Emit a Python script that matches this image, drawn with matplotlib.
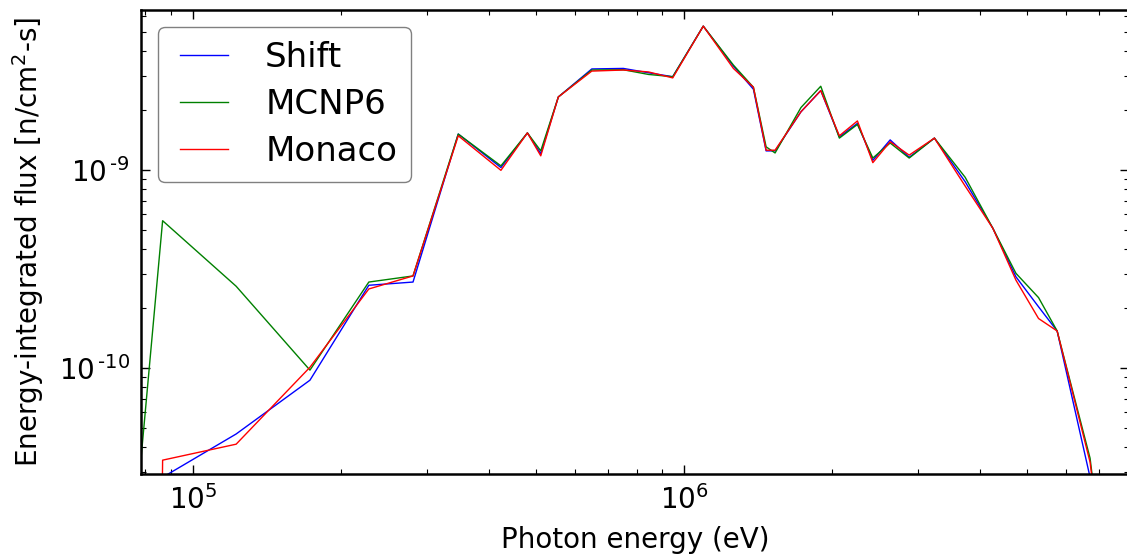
import numpy as np
import matplotlib
matplotlib.use("Agg")
import matplotlib.pyplot as plt
from matplotlib.legend_handler import HandlerLine2D
from matplotlib.ticker import FuncFormatter

# Photon energy grid (eV) and energy-integrated flux for each code
energy = [7.83e4, 8.67e4, 1.224e5, 1.73e5, 2.28e5, 2.805e5, 3.468e5, 4.236e5,
          4.796e5, 5.106e5, 5.545e5, 6.486e5, 7.52e5, 8.46e5, 9.48e5, 1.094e6,
          1.26e6, 1.384e6, 1.469e6, 1.532e6, 1.73e6, 1.898e6, 2.071e6, 2.254e6,
          2.423e6, 2.628e6, 2.873e6, 3.234e6, 3.736e6, 4.254e6, 4.74e6, 5.27e6,
          5.75e6, 6.71e6, 8.0e6]

shift = [1.0e-11, 2.81e-11, 4.65e-11, 8.69e-11, 2.62e-10, 2.72e-10, 1.52e-9, 1.03e-9,
         1.54e-9, 1.21e-9, 2.34e-9, 3.24e-9, 3.26e-9, 3.10e-9, 2.96e-9, 5.33e-9,
         3.35e-9, 2.56e-9, 1.25e-9, 1.25e-9, 1.97e-9, 2.52e-9, 1.47e-9, 1.72e-9,
         1.12e-9, 1.42e-9, 1.16e-9, 1.45e-9, 8.73e-10, 5.08e-10, 2.89e-10, 2.04e-10,
         1.54e-10, 2.81e-11, 1.0e-12]

mcnp6 = [3.43e-11, 5.55e-10, 2.59e-10, 9.77e-11, 2.72e-10, 2.92e-10, 1.52e-9, 1.05e-9,
         1.54e-9, 1.25e-9, 2.34e-9, 3.20e-9, 3.21e-9, 3.04e-9, 2.96e-9, 5.33e-9,
         3.39e-9, 2.62e-9, 1.31e-9, 1.22e-9, 2.07e-9, 2.65e-9, 1.45e-9, 1.70e-9,
         1.15e-9, 1.37e-9, 1.15e-9, 1.45e-9, 9.19e-10, 5.08e-10, 3.01e-10, 2.27e-10,
         1.54e-10, 3.51e-11, 1.0e-12]

monaco = [1.0e-20, 3.43e-11, 4.13e-11, 1.01e-10, 2.51e-10, 2.92e-10, 1.49e-9, 9.97e-10,
          1.54e-9, 1.18e-9, 2.34e-9, 3.16e-9, 3.20e-9, 3.13e-9, 2.92e-9, 5.33e-9,
          3.26e-9, 2.62e-9, 1.26e-9, 1.26e-9, 1.97e-9, 2.52e-9, 1.49e-9, 1.77e-9,
          1.09e-9, 1.39e-9, 1.19e-9, 1.45e-9, 8.30e-10, 5.08e-10, 2.78e-10, 1.78e-10,
          1.54e-10, 3.35e-11, 1.0e-12]


def pow10(v, pos):
    # decade labels with a plain hyphen in the exponent
    e = int(round(np.log10(v)))
    if e < 0:
        return r"$10^{\,\text{-}%d}$" % (-e)
    return r"$10^{%d}$" % e


fig = plt.figure(figsize=(11.27, 5.56), dpi=100)
ax = fig.add_axes([141 / 1127, 82 / 556, 988 / 1127, 464 / 556])

ax.plot(energy, shift, color="b", linewidth=1.0, label="Shift")
ax.plot(energy, mcnp6, color="g", linewidth=1.0, label="MCNP6")
ax.plot(energy, monaco, color="r", linewidth=1.0, label="Monaco")

ax.set_xscale("log")
ax.set_yscale("log")
ax.set_xlim(10 ** 4.894, 10 ** 6.906)
ax.set_ylim(2.92e-11, 6.43e-9)
ax.xaxis.set_major_formatter(FuncFormatter(pow10))
ax.yaxis.set_major_formatter(FuncFormatter(pow10))

ax.set_xlabel("Photon energy (eV)", fontsize=20, labelpad=8)
ax.set_ylabel("Energy-integrated flux [n/cm$^2$-s]", fontsize=20)
ax.yaxis.set_label_coords(-0.096, 0.5)

ax.tick_params(which="both", direction="in", top=True, right=True, labelsize=20)
ax.tick_params(which="major", length=6.5, width=1.0, pad=8)
ax.tick_params(which="minor", length=3.5, width=0.8)
for sp in ax.spines.values():
    sp.set_linewidth(1.8)

# short handles, inset from the left of the handle box
ax.legend(loc="upper left", fontsize=24.5, handlelength=1.67, handletextpad=1.08,
          labelspacing=0.42, edgecolor="gray", framealpha=1.0,
          handler_map={matplotlib.lines.Line2D: HandlerLine2D(xpad=0.26)})

fig.savefig("out.png", dpi=100)
